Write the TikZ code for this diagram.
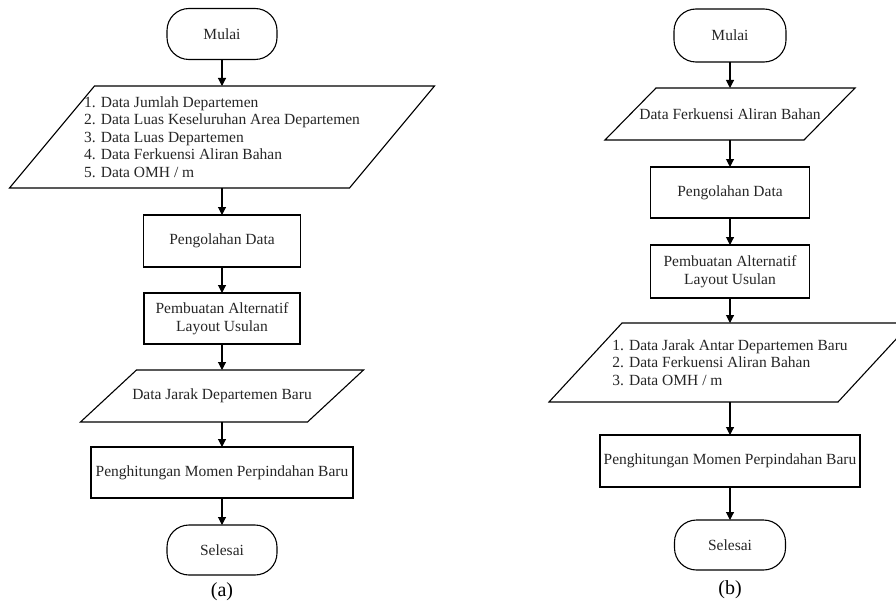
\documentclass[tikz,border=0pt]{standalone}
\usepackage{fontspec}
\setmainfont{Liberation Serif}
\usetikzlibrary{arrows.meta}
\newcommand\paradraw[2]{\draw[shapeline] ([xshift=-#2]#1.south west) -- ([xshift=#2]#1.north west) -- ([xshift=#2]#1.north east) -- ([xshift=-#2]#1.south east) -- cycle;}
\begin{document}
\begin{tikzpicture}[x=1pt,y=-1pt,
  every node/.style={font=\fontsize{15.5}{17.5}\selectfont, text=black!85, inner sep=0pt, outer sep=0pt},
  shapeline/.style={line width=1.1pt, draw=black},
  term/.style={shapeline, rounded corners=22pt, minimum width=#1, minimum height=51pt},
  procbox/.style 2 args={shapeline, minimum width=#1, minimum height=#2},
  paranode/.style 2 args={minimum width=#1, minimum height=#2, align=left},
  flow/.style={line width=1.1pt, -{Triangle[length=8pt,width=8pt]}},
  cap label/.style={font=\fontsize{20}{22}\selectfont, text=black}
]
\clip (0,0) rectangle (896,607);
\fill[white] (0,0) rectangle (896,607);

% ---------- (a) ----------
\node[term=110pt] (m1a) at (222,34) {Mulai};
\node[paranode={340pt}{102pt}] (p1a) at (222,137) {1. Data Jumlah Departemen\\2. Data Luas Keseluruhan Area Departemen\\3. Data Luas Departemen\\4. Data Ferkuensi Aliran Bahan\\5. Data OMH / m};
\paradraw{p1a}{42.5pt}
\node[procbox={157pt}{52pt}] (b1a) at (222,241) {Pengolahan Data};
\node[procbox={156pt}{51pt}, align=center] (b2a) at (222,318.5) {Pembuatan Alternatif\\Layout Usulan};
\node[paranode={227pt}{52pt}] (p2a) at (222,396) {Data Jarak Departemen Baru};
\paradraw{p2a}{28pt}
\node[procbox={262pt}{51pt}] (b3a) at (222,472.5) {Penghitungan Momen Perpindahan Baru};
\node[term=110pt, minimum height=50pt] (e1a) at (222,550) {Selesai};
\node[cap label] (capa) at (222,592) {(a)};

\draw[flow] (m1a) -- (p1a);
\draw[flow] (p1a) -- (b1a);
\draw[flow] (b1a) -- (b2a);
\draw[flow] (b2a) -- (p2a);
\draw[flow] (p2a) -- (b3a);
\draw[flow] (b3a) -- (e1a);

% ---------- (b) ----------
\node[term=112pt, minimum height=53pt] (m1b) at (730,35.5) {Mulai};
\node[paranode={199pt}{52pt}] (p1b) at (730,114) {Data Ferkuensi Aliran Bahan};
\paradraw{p1b}{25.5pt}
\node[procbox={159pt}{51pt}] (b1b) at (730,192.5) {Pengolahan Data};
\node[procbox={159pt}{53pt}, align=center] (b2b) at (730,271.5) {Pembuatan Alternatif\\Layout Usulan};
\node[paranode={289pt}{79pt}] (p2b) at (730,362.5) {1. Data Jarak Antar Departemen Baru\\2. Data Ferkuensi Aliran Bahan\\3. Data OMH / m};
\paradraw{p2b}{36.5pt}
\node[procbox={260pt}{52pt}] (b3b) at (730,461) {Penghitungan Momen Perpindahan Baru};
\node[term=111pt, minimum height=50pt] (e1b) at (730,545) {Selesai};
\node[cap label] (capb) at (730,590) {(b)};

\draw[flow] (m1b) -- (p1b);
\draw[flow] (p1b) -- (b1b);
\draw[flow] (b1b) -- (b2b);
\draw[flow] (b2b) -- (p2b);
\draw[flow] (p2b) -- (b3b);
\draw[flow] (b3b) -- (e1b);
\end{tikzpicture}
\end{document}
